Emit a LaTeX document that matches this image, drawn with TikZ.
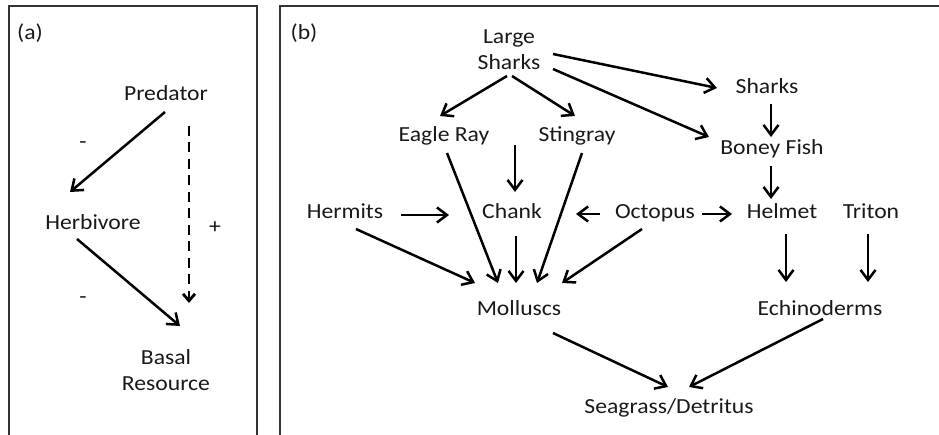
\documentclass[tikz,border=0pt]{standalone}
\usepackage{fontspec}
\setmainfont{Carlito}[FakeStretch=1.1]
\usetikzlibrary{arrows.meta,calc}
\begin{document}
\begin{tikzpicture}[x=1pt,y=-1pt,
  lbl/.style={inner sep=0pt,text height=14pt,text depth=0pt,font=\fontsize{21.5}{26}\selectfont,text=black!90},
  lbl2/.style={inner sep=0pt,align=center,font=\fontsize{21.5}{26}\selectfont,text=black!90},
  arr/.style={line width=2.5pt,-{Straight Barb[length=10pt,width=15pt]}},
  darr/.style={line width=2.8pt,dash pattern=on 10pt off 6.5pt,-{Straight Barb[length=7pt,width=12pt]}},
  frame/.style={line width=1.4pt,draw=black!80}]
\useasboundingbox (0,0) rectangle (939,435);
% frames
\draw[frame] (9,440) -- (9,6) -- (257,6) -- (257,440);
\draw[frame] (280,440) -- (280,6) -- (945,6);
% panel (a)
\node[lbl] (la) at (30,33) {(a)};
\node[lbl] (P) at (166,94) {Predator};
\node[lbl] (H) at (93,223) {Herbivore};
\node[lbl2] (B) at (166,370) {Basal\\Resource};
\node[lbl] (m1) at (83,142) {-};
\node[lbl] (pl) at (215,227) {+};
\node[lbl] (m2) at (83,297) {-};
\draw[arr] ($(P)+(-1,18)$) -- ($(H)+(-23,-31)$);
\draw[darr] ($(P)+(23,32)$) -- ($(B)+(23,-67)$);
\draw[arr] ($(H)+(-16,16)$) -- ($(B)+(14,-44)$);
% panel (b)
\node[lbl] (lb) at (304,33) {(b)};
\node[lbl2] (LS) at (509,50) {Large\\Sharks};
\node[lbl] (ER) at (444,135) {Eagle Ray};
\node[lbl] (SR) at (577,135) {Stingray};
\node[lbl] (CH) at (512,212) {Chank};
\node[lbl] (HE) at (345,212) {Hermits};
\node[lbl] (SH) at (767,87) {Sharks};
\node[lbl] (BF) at (772,148) {Boney Fish};
\node[lbl] (OC) at (655,212) {Octopus};
\node[lbl] (HL) at (782,212) {Helmet};
\node[lbl] (TR) at (871,212) {Triton};
\node[lbl] (MO) at (519,309) {Molluscs};
\node[lbl] (EC) at (820,309) {Echinoderms};
\node[lbl] (SG) at (669,406) {Seagrass/Detritus};
\coordinate (rays) at (515,145);
\draw[arr] ($(LS)+(-2,26)$) -- ($(ER)+(-4,-19)$);
\draw[arr] ($(LS)+(3,26)$) -- ($(SR)+(-2,-19)$);
\draw[arr] ($(LS)+(44,4)$) -- ($(SH)+(-50,1)$);
\draw[arr] ($(LS)+(44,19)$) -- ($(BF)+(-63,-11)$);
\draw[arr] (rays) -- ($(CH)+(3,-20)$);
\draw[arr] ($(ER)+(3,18)$) -- ($(MO)+(-21,-26)$);
\draw[arr] ($(SR)+(5,18)$) -- ($(MO)+(18,-26)$);
\draw[arr] ($(CH)+(4,24)$) -- ($(MO)+(-3,-26)$);
\draw[arr] ($(HE)+(56,3)$) -- ($(CH)+(-63,3)$);
\draw[arr] ($(HE)+(11,17)$) -- ($(MO)+(-44,-26)$);
\draw[arr] ($(OC)+(-55,2)$) -- ($(CH)+(64,2)$);
\draw[arr] ($(OC)+(47,2)$) -- ($(HL)+(-50,2)$);
\draw[arr] ($(OC)+(-13,17)$) -- ($(MO)+(43,-26)$);
\draw[arr] ($(SH)+(4,17)$) -- ($(BF)+(-1,-11)$);
\draw[arr] ($(BF)+(-1,18)$) -- ($(HL)+(-11,-13)$);
\draw[arr] ($(HL)+(4,22)$) -- ($(EC)+(-34,-27)$);
\draw[arr] ($(TR)+(-3,22)$) -- ($(EC)+(48,-27)$);
\draw[arr] ($(MO)+(34,24)$) -- ($(SG)+(-1,-19)$);
\draw[arr] ($(EC)+(3,10)$) -- ($(SG)+(20,-19)$);
\end{tikzpicture}
\end{document}
